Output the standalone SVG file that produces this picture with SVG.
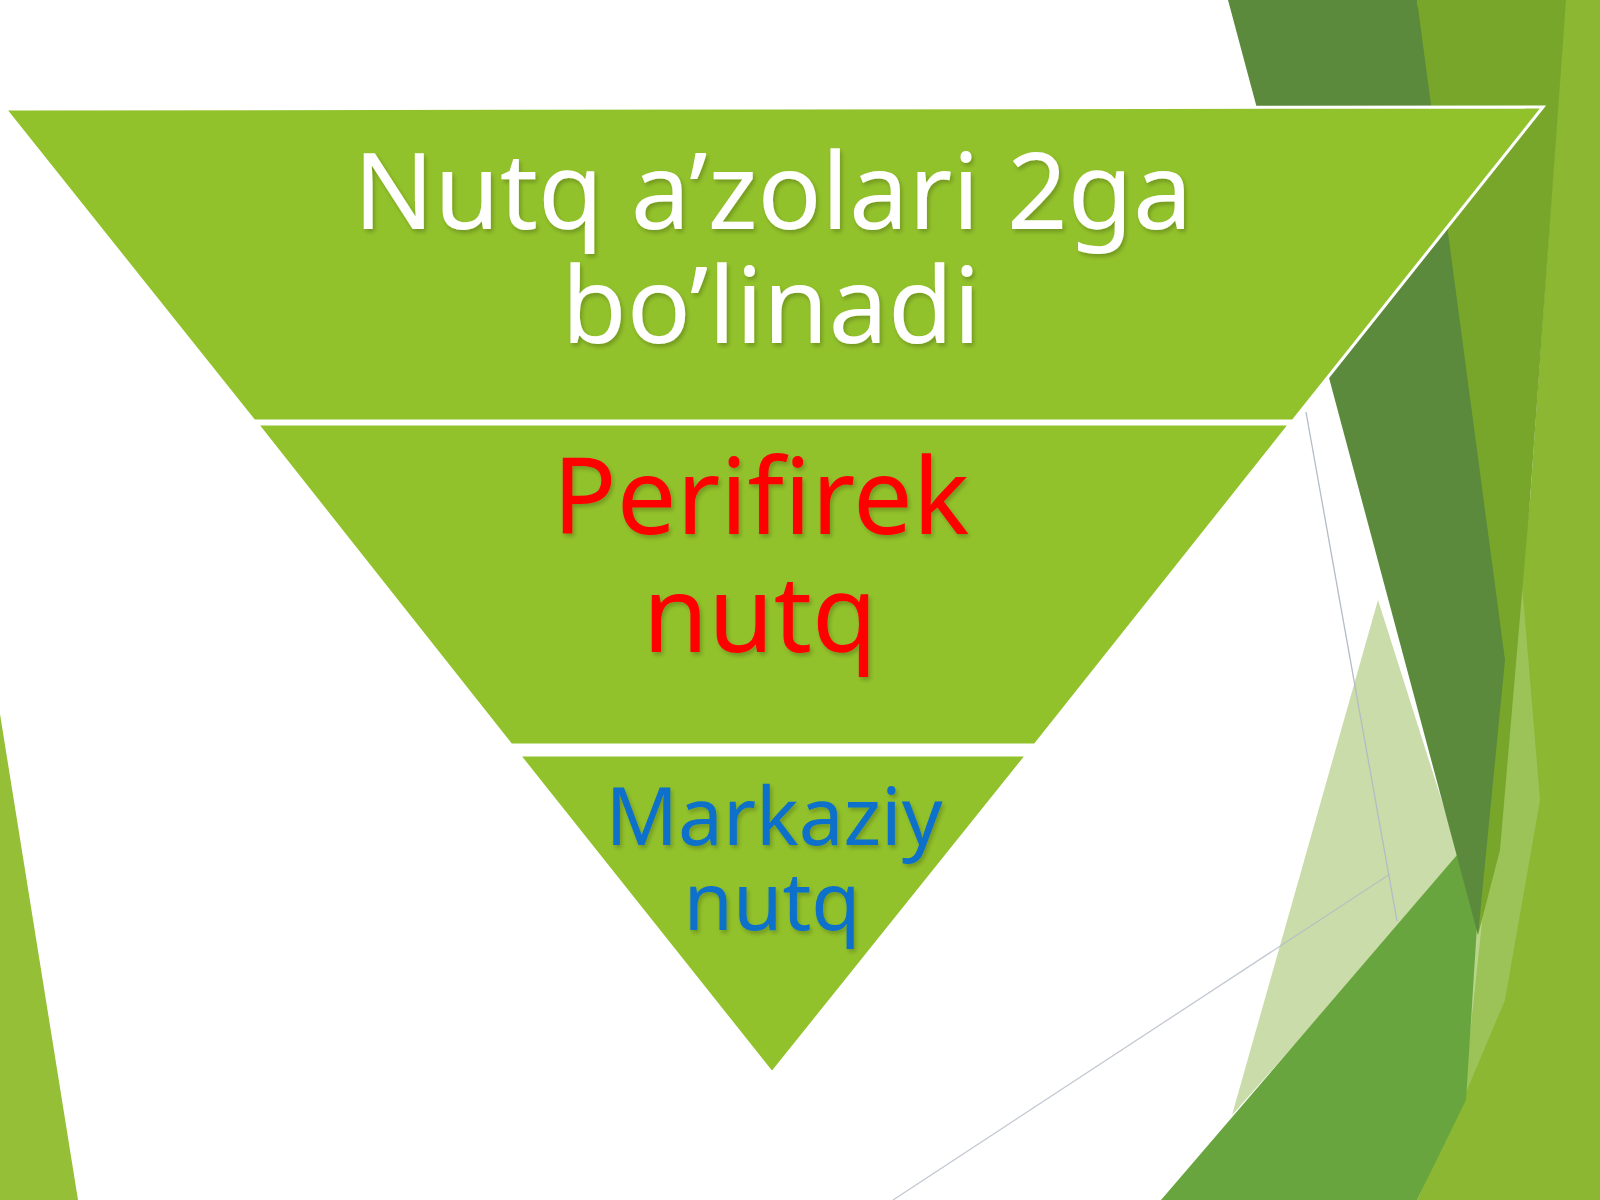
<svg xmlns="http://www.w3.org/2000/svg" width="1600" height="1200" viewBox="0 0 1600 1200">
  <defs>
    <style>
      .seg { fill: #92C22B; stroke: #FFFFFF; stroke-width: 3; stroke-linejoin: miter; }
      .txt { font-family: "Noto Sans", "Open Sans", "Liberation Sans", sans-serif; text-anchor: middle; }
      .title { fill: #FFFFFF; font-size: 106px; }
      .red { fill: #FF0000; font-size: 106px; }
      .blue { fill: #0A6FCB; font-size: 80px; }
      .thin { fill: none; stroke: #B4BCC6; stroke-width: 1.3; }
    </style>
    <filter id="shadow" x="-10%" y="-10%" width="120%" height="130%">
      <feDropShadow dx="2" dy="3" stdDeviation="2" flood-color="#000000" flood-opacity="0.22"/>
    </filter>
  </defs>

  <!-- background -->
  <g id="background">
    <rect x="0" y="0" width="1600" height="1200" fill="#FFFFFF"/>
    <!-- left sliver -->
    <polygon points="0,714 78,1200 0,1200" fill="#94BF36"/>
    <!-- light right region -->
    <polygon points="1565,0 1600,0 1600,1200 1417,1200 1463,1100 1495,800 1530,500" fill="#8BB733"/>
    <!-- paler strip -->
    <polygon points="1520,560 1540,800 1505,1000 1465,1095 1478,820" fill="#A2C766" opacity="0.75"/>
    <!-- olive band -->
    <polygon points="1417,0 1566,0 1530,500 1500,850 1478,935" fill="#78A62B"/>
    <!-- pale translucent -->
    <polygon points="1378,600 1460,858 1232,1115" fill="#C9DCA9"/>
    <!-- medium green -->
    <polygon points="1457,855 1484,815 1466,1100 1417,1200 1161,1200" fill="#68A53E"/>
    <!-- dark band -->
    <polygon points="1228,0 1417,0 1505,660 1478,935" fill="#5B8A3C"/>
    <!-- thin lines -->
    <line class="thin" x1="1306" y1="412" x2="1397" y2="921"/>
    <line class="thin" x1="893" y1="1200" x2="1390" y2="874" opacity="0.8"/>
  </g>

  <!-- pyramid segments -->
  <g id="segment-1">
    <polygon class="seg" points="5,109 1543,107 1293,421 254,421"/>
    <g filter="url(#shadow)">
      <text class="txt title" x="773" y="229">Nutq a’zolari 2ga</text>
      <text class="txt title" x="771" y="343">bo’linadi</text>
    </g>
  </g>
  <g id="segment-2">
    <polygon class="seg" points="257,424 1290,424 1035,745 511,745"/>
    <g filter="url(#shadow)">
      <text class="txt red" x="761" y="534">Perifirek</text>
      <text class="txt red" x="760" y="652">nutq</text>
    </g>
  </g>
  <g id="segment-3">
    <polygon class="seg" points="519,755 1027,755 772,1073"/>
    <g filter="url(#shadow)">
      <text class="txt blue" x="774" y="845">Markaziy</text>
      <text class="txt blue" x="772" y="930">nutq</text>
    </g>
  </g>

  <g id="connectors"></g>
</svg>
